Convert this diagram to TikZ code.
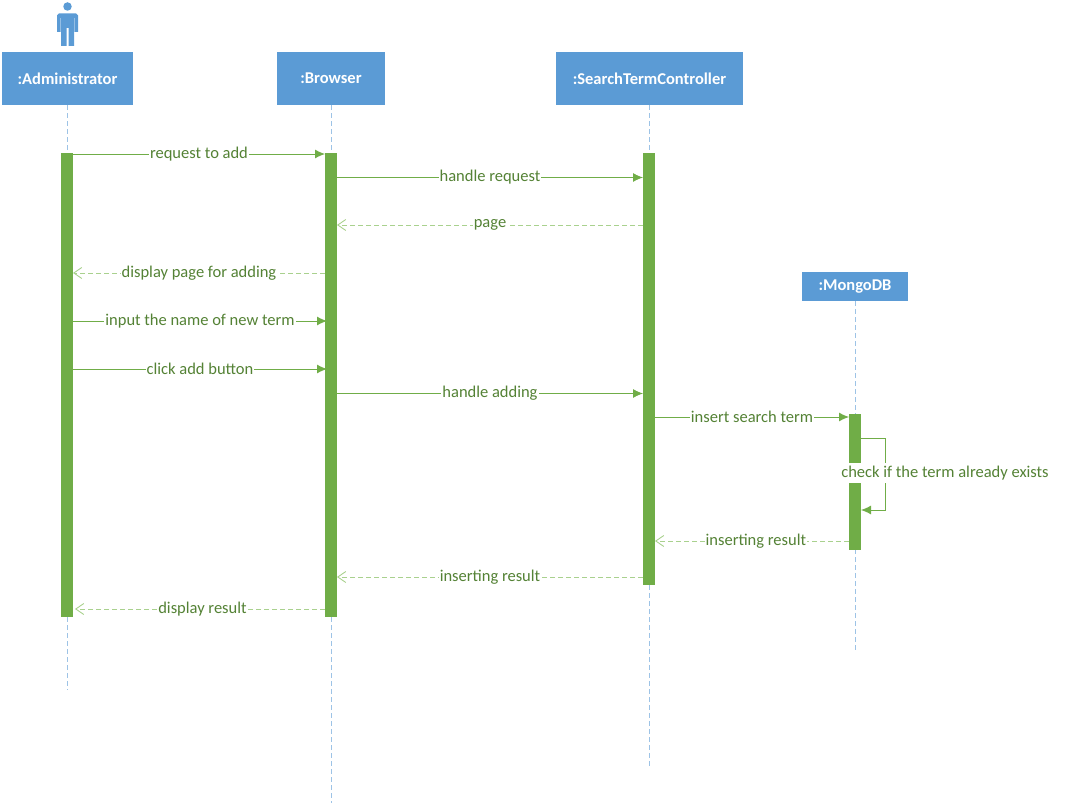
\documentclass[tikz,border=0pt]{standalone}
\usepackage{fontspec}
\setmainfont{Carlito}
\definecolor{boxblue}{HTML}{5B9BD5}
\definecolor{barblue}{HTML}{9DC3E6}
\definecolor{bargreen}{HTML}{70AD47}
\definecolor{msggreen}{HTML}{548235}
\definecolor{retgreen}{HTML}{A9D18E}
\usetikzlibrary{arrows.meta}

\begin{document}
\begin{tikzpicture}
[x=1pt,y=-1pt,
every node/.style={font=\fontsize{16.5}{18}\selectfont},
objbox/.style={shape=rectangle,fill=boxblue,text=white,font=\fontsize{16.5}{18}\selectfont\bfseries,inner sep=0pt},
bar/.style={shape=rectangle,fill=bargreen,minimum width=12pt,inner sep=0pt},
life/.style={draw=barblue,dashed,line width=0.8pt,dash pattern=on 5pt off 3pt},
msg/.style={draw=bargreen,line width=0.9pt,-{Latex[length=10pt,width=9pt]}},
ret/.style={draw=retgreen,line width=0.9pt,dash pattern=on 5pt off 3pt,-{Straight Barb[length=8pt,width=11pt]}},
lbl/.style={fill=white,text=msggreen,inner xsep=1pt,inner ysep=0pt}]

\useasboundingbox (0,0) rectangle (1072,805);

% objects
\node[objbox,minimum width=131pt,minimum height=53pt] (adm) at (67.5,78.5) {:Administrator};
\node[objbox,minimum width=108pt,minimum height=53pt] (bro) at (331,78.5) {:Browser};
\node[objbox,minimum width=187pt,minimum height=53pt] (ctl) at (649.5,78.5) {:SearchTermController};
\node[objbox,minimum width=106pt,minimum height=29pt] (mon) at (855,286.5) {:MongoDB};

% actor
\node[shape=circle,fill=boxblue,minimum size=8.5pt,inner sep=0pt] (head) at (67.5,6.5) {};
\fill[boxblue] (59,13.5) -- (76,13.5) -- (78,15.5) -- (78,32) -- (74.5,32) -- (74.5,18) -- (74,18)
  -- (74,46) -- (68.5,46) -- (68.5,28) -- (66.5,28) -- (66.5,46) -- (61,46) -- (61,18) -- (60.5,18)
  -- (60.5,32) -- (57,32) -- (57,15.5) -- cycle;

% lifelines
\coordinate (admend) at (67.5,690);
\coordinate (broend) at (331,803);
\coordinate (ctlend) at (649,766);
\coordinate (monend) at (855,650);
\draw[life] (adm) -- (adm.south -| admend) -- (admend);
\draw[life] (bro.south) -- (broend);
\draw[life] (ctl.south -| ctlend) -- (ctlend);
\draw[life] (mon.south) -- (monend);

% activation bars
\node[bar,minimum height=464pt] (admbar) at (67,385) {};
\node[bar,minimum height=464pt] (brobar) at (331,385) {};
\node[bar,minimum height=432pt] (ctlbar) at (649,369) {};
\node[bar,minimum height=136pt] (monbar) at (855,482) {};

% messages
\coordinate (m1a) at (73,154);   \coordinate (m1b) at (325,154);
\coordinate (m2a) at (337,177.5); \coordinate (m2b) at (643,177.5);
\coordinate (m3a) at (643,225);  \coordinate (m3b) at (337,225);
\coordinate (m4a) at (325,273);  \coordinate (m4b) at (73,273);
\coordinate (m5a) at (73,321);   \coordinate (m5b) at (327,321);
\coordinate (m6a) at (73,369);   \coordinate (m6b) at (327,369);
\coordinate (m7a) at (337,393.5); \coordinate (m7b) at (643,393.5);
\coordinate (m8a) at (655,417);  \coordinate (m8b) at (849,417);
\coordinate (m9a) at (849,541);  \coordinate (m9b) at (655,541);
\coordinate (m10a) at (643,577); \coordinate (m10b) at (337,577);
\coordinate (m11a) at (325,609); \coordinate (m11b) at (75,609);
\coordinate (sa) at (861,438);   \coordinate (sb) at (861,510);
\coordinate (sc) at (885,438);   \coordinate (sd) at (885,510);

\draw[msg] (m1a) -- node[lbl] {request to add} (m1b);
\draw[msg] (m2a) -- node[lbl] {handle request} (m2b);
\draw[ret] (m3a) -- node[lbl] {page} (m3b);
\draw[ret] (m4a) -- node[lbl] {display page for adding} (m4b);
\draw[msg] (m5a) -- node[lbl] {input the name of new term} (m5b);
\draw[msg] (m6a) -- node[lbl] {click add button} (m6b);
\draw[msg] (m7a) -- node[lbl] {handle adding} (m7b);
\draw[msg] (m8a) -- node[lbl] {insert search term} (m8b);
\draw[ret] (m9a) -- node[lbl,pos=.48] {inserting result} (m9b);
\draw[ret] (m10a) -- node[lbl] {inserting result} (m10b);
\draw[ret] (m11a) -- node[lbl,pos=.49] {display result} (m11b);
\draw[msg] (sa) -- (sc) -- (sd) -- (sb);
\node[lbl,inner ysep=3pt] (selflbl) at (945,473) {check if the term already exists};
\end{tikzpicture}
\end{document}
